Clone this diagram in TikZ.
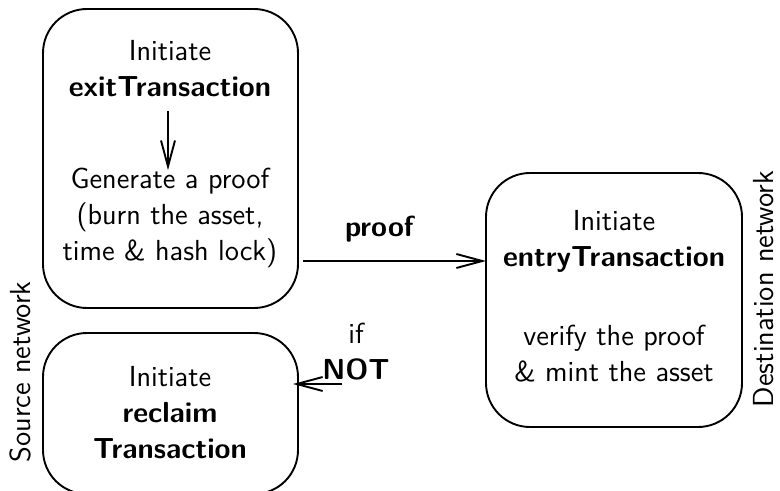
\documentclass[tikz,border=0pt]{standalone}
\usetikzlibrary{arrows.meta}
\begin{document}
\begin{tikzpicture}[x=0.5pt,y=-0.5pt,
  font=\sffamily\fontsize{14.5pt}{18pt}\selectfont,
  every node/.style={inner sep=0pt,outer sep=0pt},
  stage/.style={draw,line width=0.95pt,rounded corners=22pt},
  txt/.style={align=center},
  arr/.style={line width=0.95pt,-{Straight Barb[length=13pt,width=7pt,line width=0.95pt]}},
  side/.style={rotate=90}]
\useasboundingbox (0,0) rectangle (780,491);
\clip (0,0) rectangle (780,491);

% stage boxes
\node[stage,minimum width=127.5pt,minimum height=149.5pt] (exitbox) at (170.5,158.5) {};
\node[stage,minimum width=127.5pt,minimum height=80.5pt] (reclaimbox) at (170.5,413.5) {};
\node[stage,minimum width=128pt,minimum height=127pt] (entrybox) at (614,300) {};

% texts of the source network
\node[txt] (exithead) at (170,69) {Initiate\\\textbf{exitTransaction}};
\node[txt] (exitproof) at (170,218) {Generate a proof\\(burn the asset,\\time \& hash lock)};
\node[txt] (reclaimtxt) at (170,413) {Initiate\\\textbf{reclaim}\\\textbf{Transaction}};

% texts of the destination network
\node[txt] (entryhead) at (614,241) {Initiate\\\textbf{entryTransaction}};
\node[txt] (entryverify) at (614,354) {verify the proof\\\& mint the asset};

% network labels
\node[side] (srcnet) at (20,372) {Source network};
\node[side] (dstnet) at (764,289) {Destination network};

% connectors
\draw[arr,shorten <=7pt,shorten >=-1pt] (exithead.south -| 168,0) -- (exitproof.north -| 168,0);

\coordinate (prooflevel) at (0,261);
\draw[arr,shorten <=2.5pt] (exitbox.east |- prooflevel) -- (entrybox.west |- prooflevel);
\node (prooflbl) at (380,229) {\textbf{proof}};

\coordinate (notstart) at (342,384);
\draw[arr,shorten >=-2.5pt] (notstart) -- (reclaimbox.east |- notstart);
\node[txt] (notlbl) at (356,352) {if\\\textbf{NOT}};
\end{tikzpicture}
\end{document}
